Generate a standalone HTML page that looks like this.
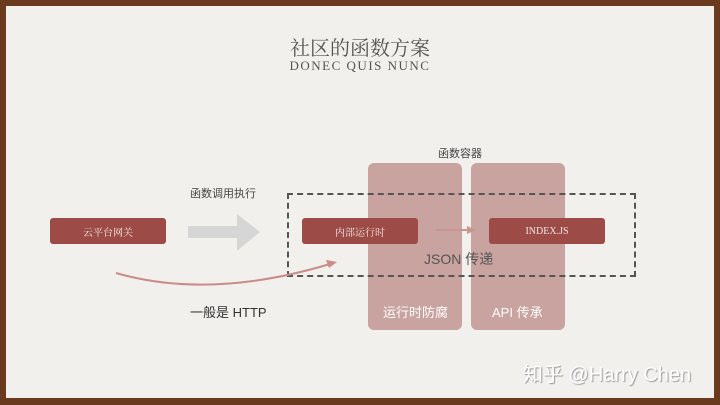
<!DOCTYPE html>
<html><head><meta charset="utf-8"><style>
body{margin:0;width:720px;height:405px;background:#6a3a1f;overflow:hidden;position:relative;font-family:"Liberation Sans","Noto Sans CJK SC",sans-serif}
.slide{position:absolute;left:6px;top:6px;width:708px;height:392px;background:#f1f0ed}
.a{position:absolute}
.node{position:absolute;background:#9c4b46;color:#f4e6e4;font-size:10px;font-family:"Liberation Serif","Noto Serif CJK SC",serif;display:flex;align-items:center;justify-content:center;border-radius:3px;width:116px;height:26px;top:218px}
.cont{position:absolute;background:rgba(184,130,125,0.7);border-radius:6px;top:163px;height:167px;width:94px}
.t{position:absolute;white-space:nowrap}
</style></head><body>
<div class="slide"></div>
<div class="t" style="left:0;width:720px;text-align:center;top:32px;font-size:20px;color:#555;font-family:'Liberation Serif','Noto Serif CJK SC',serif">社区的函数方案</div>
<div class="t" style="left:0;width:720px;text-align:center;top:58px;font-size:13px;letter-spacing:1.5px;color:#555;font-family:'Liberation Serif',serif">DONEC QUIS NUNC</div>
<div class="t" style="left:438px;top:145px;font-size:11px;color:#444">函数容器</div>
<div class="cont" style="left:368px"></div>
<div class="cont" style="left:471px"></div>
<div class="a" style="left:287px;top:193px;width:345px;height:80px;border:2px dashed #555"></div>
<div class="node" style="left:50px">云平台网关</div>
<div class="node" style="left:302px">内部运行时</div>
<div class="node" style="left:489px">INDEX.JS</div>
<svg class="a" style="left:0;top:0" width="720" height="405">
<polygon points="188,226 237,226 237,214 260,232 237,251 237,238 188,238" fill="#d6d6d6"/>
<line x1="436" y1="230" x2="469" y2="230" stroke="#c99692" stroke-width="2"/>
<polygon points="476,230 467,226 467,234" fill="#c99692"/>
<path d="M116,273 Q210,300 330,264" fill="none" stroke="#c98c88" stroke-width="2"/>
<polygon points="337,262 326,260 329,268" fill="#c98c88"/>
</svg>
<div class="t" style="left:190px;top:185px;font-size:11px;color:#444">函数调用执行</div>
<div class="t" style="left:190px;top:302px;font-size:13px;color:#333">一般是 HTTP</div>
<div class="t" style="left:424px;top:249px;font-size:14px;color:#555">JSON 传递</div>
<div class="t" style="left:383px;top:302px;font-size:13px;color:#fff">运行时防腐</div>
<div class="t" style="left:492px;top:302px;font-size:13px;color:#fff">API 传承</div>
<div class="t" style="left:523px;top:358px;font-size:20px;color:#fff;text-shadow:1px 1px 1px #999">知乎 @Harry Chen</div>
</body></html>
